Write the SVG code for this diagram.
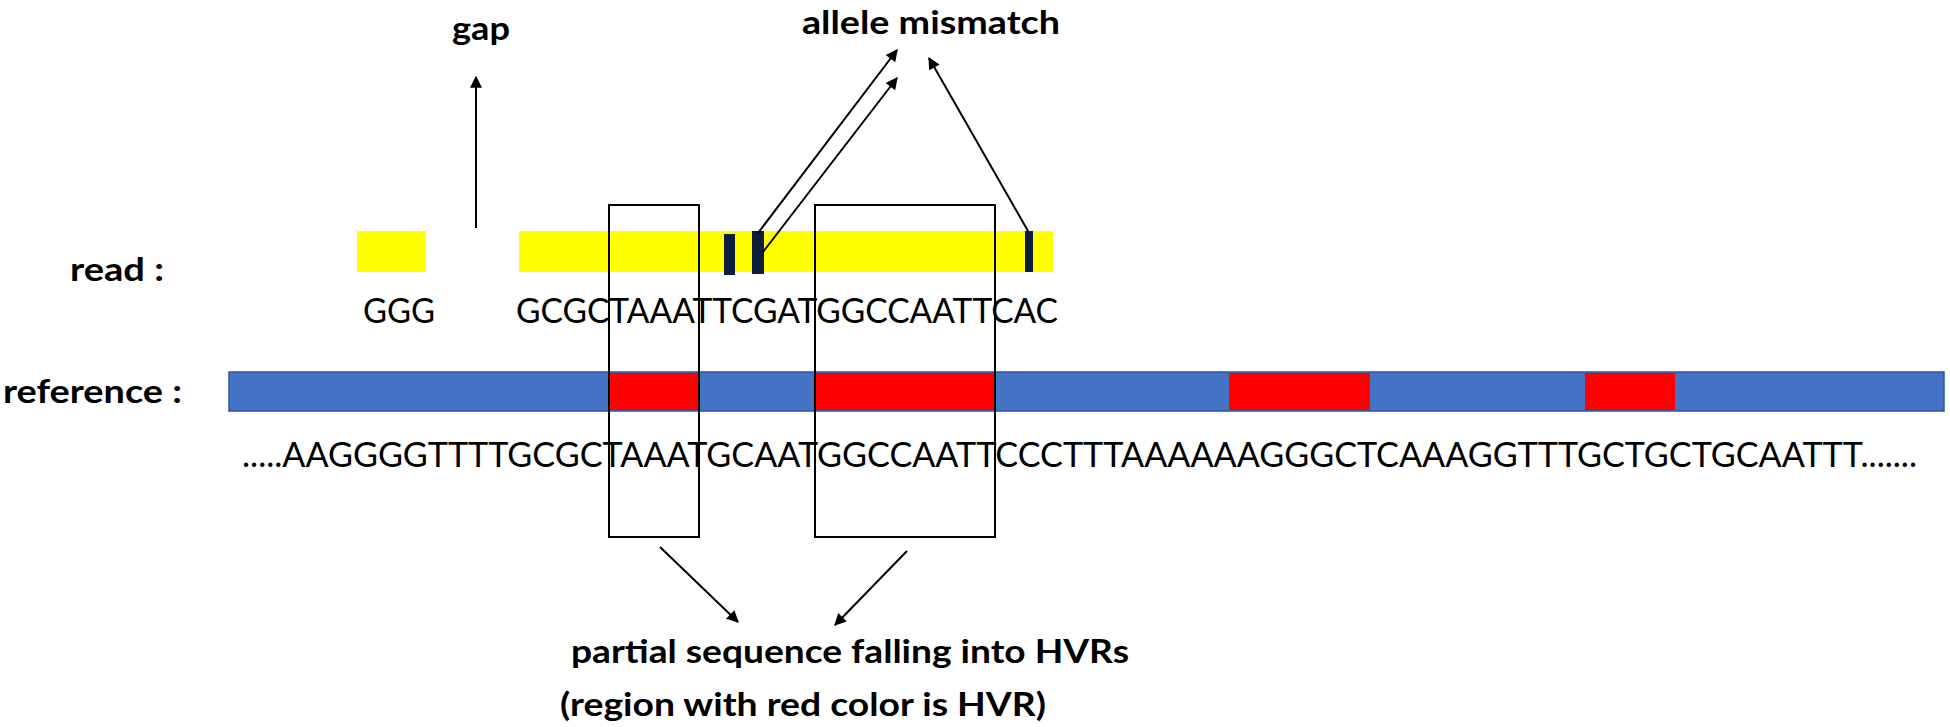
<svg xmlns="http://www.w3.org/2000/svg" width="1950" height="727" viewBox="0 0 1950 727">
<style>
.lbl{font-family:Lato,"Liberation Sans",sans-serif;font-weight:bold;font-size:32px;fill:#000}
.seq{font-family:Lato,"Liberation Sans",sans-serif;font-size:35px;fill:#000}
.box{fill:none;stroke:#000;stroke-width:2}
.yel{fill:#FFFF00}
.mark{fill:#101C3C}
.blue{fill:#4472C4;stroke:#2F5597;stroke-width:1.5}
.red{fill:#FF0000}
.conn{stroke:#000;stroke-width:2;fill:none;marker-end:url(#ah)}
</style>
<defs>
<marker id="ah" viewBox="0 0 10 10" refX="9" refY="5" markerWidth="14" markerHeight="12" markerUnits="userSpaceOnUse" orient="auto">
<path d="M0,0 L10,5 L0,10 z" fill="#000"/>
</marker>
</defs>
<rect width="1950" height="727" fill="#fff"/>
<g id="read">
<text class="lbl" x="70" y="281" textLength="94" lengthAdjust="spacingAndGlyphs">read :</text>
<rect class="yel" x="357" y="231" width="69" height="41"/>
<rect class="yel" x="519" y="231" width="534" height="41"/>
<rect class="mark" x="724" y="234" width="11" height="41"/>
<rect class="mark" x="752" y="231" width="12" height="43"/>
<rect class="mark" x="1025" y="231" width="8" height="41"/>
<text class="seq" x="363" y="323" textLength="72" lengthAdjust="spacingAndGlyphs">GGG</text>
<text class="seq" x="516" y="323" textLength="542" lengthAdjust="spacingAndGlyphs">GCGCTAAATTCGATGGCCAATTCAC</text>
</g>
<g id="reference">
<text class="lbl" x="3" y="403" textLength="179" lengthAdjust="spacingAndGlyphs">reference :</text>
<rect class="blue" x="229" y="372" width="1715" height="39"/>
<rect class="red" x="610" y="373" width="89" height="37"/>
<rect class="red" x="815" y="373" width="180" height="37"/>
<rect class="red" x="1229" y="373" width="141" height="37"/>
<rect class="red" x="1585" y="373" width="90" height="37"/>
<text class="seq" x="242" y="467" textLength="1675" lengthAdjust="spacingAndGlyphs">.....AAGGGGTTTTGCGCTAAATGCAATGGCCAATTCCCTTTAAAAAAGGGCTCAAAGGTTTGCTGCTGCAATTT.......</text>
</g>
<g id="hvr-box-1"><rect class="box" x="609" y="205" width="90" height="332"/></g>
<g id="hvr-box-2"><rect class="box" x="815" y="205" width="180" height="332"/></g>
<g id="gap-label"><text class="lbl" x="452" y="40" textLength="58" lengthAdjust="spacingAndGlyphs">gap</text></g>
<g id="mismatch-label"><text class="lbl" x="802" y="34" textLength="258" lengthAdjust="spacingAndGlyphs">allele mismatch</text></g>
<g id="hvr-label">
<text class="lbl" x="571" y="663" textLength="558" lengthAdjust="spacingAndGlyphs">partial sequence falling into HVRs</text>
<text class="lbl" x="560" y="716" textLength="486" lengthAdjust="spacingAndGlyphs">(region with red color is HVR)</text>
</g>
<g id="connectors">
<line class="conn" x1="476" y1="228" x2="476" y2="77"/>
<line class="conn" x1="758" y1="233" x2="897" y2="50"/>
<line class="conn" x1="763" y1="252" x2="897" y2="78"/>
<line class="conn" x1="1028" y1="231" x2="929" y2="58"/>
<line class="conn" x1="660" y1="547" x2="738" y2="622"/>
<line class="conn" x1="907" y1="551" x2="835" y2="625"/>
</g>
</svg>
